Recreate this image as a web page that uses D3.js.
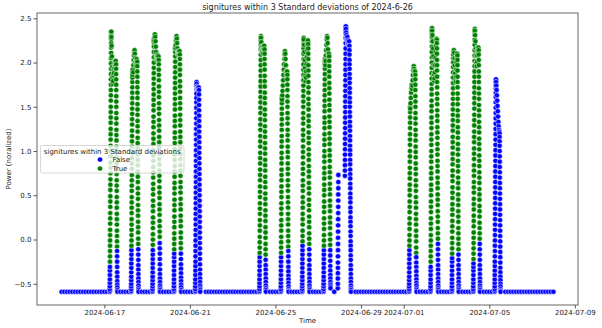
<!DOCTYPE html>
<html>
<head>
<meta charset="utf-8">
<script src="https://cdn.jsdelivr.net/npm/d3@7"></script>
<style>
  body { margin: 0; background: #fff; }
  text { font-family: "DejaVu Sans", sans-serif; }
</style>
</head>
<body>
<svg id="chart" width="602" height="328"></svg>
<script>
// Normalised power readings (hundredths) for each active day.
// Runs in time order: ramp-up outside the 3-sigma band, ramp-up inside it,
// daytime plateau, ramp-down inside the band, ramp-down outside it.
// Ramps are logged every 2 minutes, the plateau every 20 minutes.
const jun17 = [
  [-59,-58,-56,-53,-49,-45,-40,-35,-31],
  [-25,-19,-13,-7,-1,5,11,18,24,30,37,43,49,56,62,68,75,81,87,94,100,106,113,119,125,132,138,144,150,157,163,169,175,181,187,193,199,205,211,217,222,227,231,234,235],
  [229,219,207,195,184,176,179,186,192,188,194,199,197,201,196,202],
  [198,193,187,181,175,169,162,156,150,143,137,131,124,118,112,105,99,93,86,80,74,67,61,55,48,42,36,29,23,17,10,4,-2,-8],
  [-13,-19,-25,-31,-37,-42,-47,-51,-54,-57,-59]
];
const jun18 = [
  [-59,-58,-56,-53,-50,-46,-42,-37,-32,-27,-22,-17,-12],
  [-7,-1,5,11,17,23,30,36,42,48,55,61,67,73,80,86,92,98,105,111,117,123,130,136,142,148,154,160,166,172,178,183,188,191],
  [186,192,189,197,203,208,212,214,210,205,200,196,199,203,204,200],
  [201,196,190,184,178,172,166,160,153,147,141,134,128,122,115,109,103,96,90,84,77,71,65,58,52,46,39,33,27,20,14,8,1,-5],
  [-11,-17,-23,-29,-34,-39,-44,-48,-52,-55,-57,-59]
];
const jun19 = [
  [-59,-58,-56,-53,-50,-46,-42,-37,-32,-27,-22,-17,-12],
  [-6,0,6,13,19,25,32,38,44,51,57,63,70,76,82,89,95,101,108,114,120,127,133,139,146,152,158,164,170,176,182,188,194,200,206,212,218,223,226],
  [225,228,231,232,229,224,218,212,206,203,206,209,204,207,203,207],
  [203,198,192,186,180,173,167,161,154,148,142,135,129,123,116,110,104,97,91,85,78,72,66,59,53,47,40,34,28,21,15,9,3],
  [-4,-10,-16,-22,-28,-34,-39,-44,-48,-52,-55,-57,-59]
];
const jun20 = [
  [-59,-58,-56,-53,-49,-45,-40,-35,-30,-25,-20,-16],
  [-11,-5,1,7,14,20,26,33,39,45,52,58,64,71,77,83,90,96,102,109,115,121,128,134,140,147,153,159,165,171,177,183,189,195,201,207,212,216,218],
  [216,220,225,229,230,227,222,216,210,212,208,213,209,212,213],
  [209,204,198,192,186,179,173,167,160,154,148,141,135,129,122,116,110,103,97,91,84,78,72,65,59,53,46,40,34,27,21,15,8,2,-4,-10],
  [-16,-22,-28,-33,-38,-43,-47,-51,-54,-57,-59]
];
const jun21 = [
  [-59,-58,-56,-53,-49,-45,-40,-35,-30,-25,-19,-13,-7,-1,5,11,17,23,29,35,41,47,53,59,65,71,77,83,89,95,101,107,113,119,125,131,137,143,149,155,160,165,170,174,177,178],
  [],
  [176,173,170,171,172,169,171,172],
  [],
  [169,164,158,152,146,140,134,128,122,116,110,104,98,92,86,80,74,68,62,56,50,44,38,32,26,20,14,8,2,-4,-10,-16,-22,-28,-34,-39,-44,-48,-52,-55,-57,-59]
];
const jun24 = [
  [-59,-58,-56,-53,-49,-45,-40,-35,-30,-25,-20],
  [-15,-9,-3,3,10,16,22,29,35,41,48,54,60,67,73,79,86,92,98,105,111,117,124,130,136,143,149,155,161,167,173,179,185,191,197,203,209,215,220,225,228,230],
  [228,223,217,212,214,218,215,210,216,219,214,219],
  [215,210,204,198,192,185,179,173,166,160,154,147,141,135,128,122,116,109,103,97,90,84,78,71,65,59,52,46,40,33,27,21,14,8,2,-5,-11,-17],
  [-23,-29,-34,-39,-44,-48,-52,-55,-57,-59]
];
const jun25 = [
  [-59,-58,-56,-53,-49,-45,-40,-35,-30,-25,-20],
  [-15,-9,-3,3,10,16,22,29,35,41,48,54,60,67,73,79,86,92,98,105,111,117,124,130,136,142,148,154,159,161],
  [158,163,168,174,180,186,192,198,204,209,213,210,204,197,190,186,189,190],
  [186,181,175,169,162,156,150,143,137,131,124,118,112,105,99,93,86,80,74,67,61,55,48,42,36,29,23,17,10,4,-2,-8],
  [-13,-19,-25,-31,-36,-41,-45,-49,-53,-56,-58,-59]
];
const jun26 = [
  [-59,-58,-56,-53,-50,-46,-42,-37,-32,-27,-22,-17,-12,-7],
  [-2,4,10,17,23,29,36,42,48,55,61,67,74,80,86,93,99,105,112,118,124,131,137,143,150,156,162,168,174,180,186,192,198,204,210,216,221,225,228],
  [226,220,212,203,194,185,179,183,190,198,206,214,220,224,225],
  [221,216,210,204,197,191,185,178,172,166,159,153,147,140,134,128,121,115,109,102,96,90,83,77,71,64,58,52,45,39,33,26,20,14,7,1,-5],
  [-11,-17,-23,-29,-34,-39,-44,-48,-52,-55,-57,-59]
];
const jun27 = [
  [-59,-58,-56,-53,-50,-46,-42,-37,-32,-27,-22,-17,-12],
  [-7,-1,5,12,18,24,31,37,43,50,56,62,69,75,81,88,94,100,107,113,119,126,132,138,145,151,157,163,169,175,181,187,193,198,202,204],
  [200,197,202,208,214,220,226,230,228,222,215,209,206,210],
  [207,202,196,190,184,177,171,165,158,152,146,139,133,127,120,114,108,101,95,89,82,76,70,63,57,51,44,38,32,25,19,13,6,0,-6],
  [-12,-18,-24,-30,-35,-40,-44,-48,-51,-53,-55]
];
const jun28 = [
  [72,78,84,90,96,102,108,114,120,126,132,138,144,150,156,162,168,174,180,186,192,198,204,210,216,222,228,233,237,240,241],
  [],
  [238,234,231,228,226,229,224,221,225,222,219,224],
  [],
  [219,214,209,203,198,193,187,182,177,171,166,160,155,150,144,139,133,128,123,117,112,106,101,96,90,85,79,74,69,63,58,52,47,42,36,31,25,20,15,9,4,-2,-7,-12,-18,-23,-29,-34,-39,-44,-48,-52,-55,-57,-59]
];
const jul01 = [
  [-59,-58,-56,-53,-50,-46,-42,-37,-32,-27,-22,-17,-12],
  [-7,-1,5,12,18,24,31,37,43,50,56,62,69,75,81,88,94,100,107,113,119,126,132,138,144,150],
  [148,154,160,166,171,175,170,174,180,186,191,195,196,193,190,188,190],
  [186,181,175,169,162,156,150,143,137,131,124,118,112,105,99,93,86,80,74,67,61,55,48,42,36,29,23,17,10,4,-2,-9,-15],
  [-20,-26,-31,-36,-41,-45,-49,-52,-55,-57,-59]
];
const jul02 = [
  [-59,-58,-56,-53,-49,-45,-40,-35,-31],
  [-25,-19,-13,-7,-1,5,12,18,24,31,37,43,50,56,62,69,75,81,88,94,100,107,113,119,126,132,138,145,151,157,164,170,176,182,188,194,200,206,212,218,224,229,233,236,238,239],
  [236,231,224,216,207,197,187,179,182,189,197,205,212,219,224,227],
  [226,222,216,210,203,197,191,184,178,172,165,159,153,146,140,134,127,121,115,108,102,96,89,83,77,70,64,58,51,45,39,32,26,20,13,7,1],
  [-5,-11,-17,-23,-29,-34,-39,-44,-48,-52,-55,-57,-59]
];
const jul03 = [
  [-59,-58,-56,-53,-49,-45,-40,-35,-30,-25,-21],
  [-16,-10,-4,2,9,15,21,28,34,40,47,53,59,66,72,78,85,91,97,104,110,116,123,129,135,141,147,153,159,165,171,177,183,189,195,200,205],
  [209,212,214,211,205,197,188,180,178,184,192,200,206,210],
  [208,203,197,191,184,178,172,165,159,153,146,140,134,127,121,115,108,102,96,89,83,77,70,64,58,51,45,39,32,26,20,13,7,1,-5,-11],
  [-17,-23,-29,-34,-39,-44,-48,-52,-55,-57,-59]
];
const jul04 = [
  [-59,-58,-56,-53,-49,-45,-40,-35,-31,-27],
  [-22,-16,-10,-4,2,8,15,21,27,34,40,46,53,59,65,72,78,84,91,97,103,110,116,122,129,135,141,148,154,160,166,172,178,184,190,196,202,208,214,220,226,231,235,238],
  [236,231,224,216,208,200,196,201,208,214,217,212,217],
  [214,209,203,197,190,184,178,171,165,159,152,146,140,133,127,121,114,108,102,95,89,83,76,70,64,57,51,45,38,32,26,19,13,7,1],
  [-5,-11,-17,-23,-29,-34,-39,-44,-48,-52,-55,-57,-59]
];
const jul05 = [
  [-59,-58,-56,-53,-49,-45,-40,-35,-30,-25,-19,-13,-7,-1,5,11,17,23,29,35,41,47,53,59,65,71,77,83,89,95,101,107,113,119,125,131,137,143,149,155,161,166,171,175,178,180,181],
  [],
  [178,174,169,163,157,151,145,139,133,128,124,122],
  [],
  [120,116,111,106,100,94,88,82,76,70,64,58,52,46,40,34,28,22,16,10,4,-2,-8,-14,-20,-26,-32,-37,-42,-46,-50,-53,-56,-58,-59]
];

const activeDates = ["2024-06-17","2024-06-18","2024-06-19","2024-06-20","2024-06-21",
                     "2024-06-24","2024-06-25","2024-06-26","2024-06-27","2024-06-28",
                     "2024-07-01","2024-07-02","2024-07-03","2024-07-04","2024-07-05"];
const activeReadings = [jun17, jun18, jun19, jun20, jun21,
                        jun24, jun25, jun26, jun27, jun28,
                        jul01, jul02, jul03, jul04, jul05];
// whether the day's daytime readings sit inside the band at all
const dayInBand = [true, true, true, true, false,
                   true, true, true, true, false,
                   true, true, true, true, false];
const firstReadingHour = [6, 6, 6, 6, 6,
                          6, 6, 6, 6, 6,
                          6, 6, 6, 6, 6];
const runStepMinutes = [2, 2, 20, 2, 2];

// Late-evening surge on 2024-06-27 (outside the band), 2-minute readings.
const lateSurgeStart = "2024-06-27T22:00";
const lateSurge = [-55,-50,-44,-38,-32,-26,-19,-12,-5,2,9,16,23,30,37,44,51,58,65,73];

// Resting level, logged every 3 hours while idle and overnight.
const restLevel = -0.59;
const idleDates = ["2024-06-15","2024-06-16","2024-06-22","2024-06-23",
                   "2024-06-29","2024-06-30","2024-07-06","2024-07-07"];
const idleHours = [0, 3, 6, 9, 12, 15, 18, 21];
const nightHours = [0, 3, 18, 21];
const missingRest = ["2024-06-27T21:00", "2024-06-28T00:00", "2024-06-28T03:00"];
const lastReading = "2024-07-08T00:00";

const seriesLabels = ["False", "True"];
const seriesColors = ["#0000ff", "#008000"];
const xTickDates = ["2024-06-17","2024-06-21","2024-06-25","2024-06-29","2024-07-01","2024-07-05","2024-07-09"];
const yTicks = [-0.5, 0.0, 0.5, 1.0, 1.5, 2.0, 2.5];

// ---- assemble the readings ----
const parseDay = d3.utcParse("%Y-%m-%d");
const parseStamp = d3.utcParse("%Y-%m-%dT%H:%M");
const fmtStamp = d3.utcFormat("%Y-%m-%dT%H:%M");
const HOUR = 3600e3, MINUTE = 60e3;

const points = [];
activeDates.forEach((d, i) => {
  let t = +parseDay(d) + firstReadingHour[i] * HOUR;
  activeReadings[i].forEach((run, r) => {
    const inside = dayInBand[i] && r >= 1 && r <= 3;
    run.forEach(v => {
      points.push({ t: new Date(t), v: v / 100, ok: inside });
      t += runStepMinutes[r] * MINUTE;
    });
  });
});
{
  let t = +parseStamp(lateSurgeStart);
  lateSurge.forEach(v => { points.push({ t: new Date(t), v: v / 100, ok: false }); t += 2 * MINUTE; });
}
const skip = new Set(missingRest);
function addRest(day, h) {
  const t = new Date(+parseDay(day) + h * HOUR);
  if (!skip.has(fmtStamp(t))) points.push({ t, v: restLevel, ok: false });
}
idleDates.forEach(d => idleHours.forEach(h => addRest(d, h)));
activeDates.forEach(d => nightHours.forEach(h => addRest(d, h)));
points.push({ t: parseStamp(lastReading), v: restLevel, ok: false });
points.sort((a, b) => a.t - b.t);

// ---- layout ----
const svg = d3.select("#chart");
const L = 37, R = 578, T = 13, B = 305;

function padded(ext, f) { const p = (ext[1] - ext[0]) * f; return [ext[0] - p, ext[1] + p]; }
const tExt = d3.extent(points, d => +d.t);
const vExt = d3.extent(points, d => d.v);
const x = d3.scaleUtc().domain(padded(tExt, 0.05).map(v => new Date(v))).range([L, R]);
const y = d3.scaleLinear().domain(padded(vExt, 0.05)).range([B, T]);

// points, drawn in time order
svg.append("g")
  .selectAll("circle")
  .data(points)
  .join("circle")
  .attr("cx", d => x(d.t))
  .attr("cy", d => y(d.v))
  .attr("r", 2.6)
  .attr("fill", d => seriesColors[d.ok ? 1 : 0])
  .attr("stroke", "#fff")
  .attr("stroke-width", 0.5);

// frame
svg.append("rect")
  .attr("x", L).attr("y", T).attr("width", R - L).attr("height", B - T)
  .attr("fill", "none").attr("stroke", "#666").attr("stroke-width", 1);

// axes
const xAxis = svg.append("g")
  .attr("transform", `translate(0,${B})`)
  .call(d3.axisBottom(x)
    .tickValues(xTickDates.map(parseDay))
    .tickFormat(d3.utcFormat("%Y-%m-%d"))
    .tickSize(3.5).tickPadding(2));
const yAxis = svg.append("g")
  .attr("transform", `translate(${L},0)`)
  .call(d3.axisLeft(y)
    .tickValues(yTicks)
    .tickFormat(d3.format(".1f"))
    .tickSize(3.5).tickPadding(2));
[xAxis, yAxis].forEach(g => {
  g.select(".domain").remove();
  g.selectAll(".tick line").attr("stroke", "#555");
  g.selectAll(".tick text").attr("fill", "#222")
    .style("font-family", "DejaVu Sans").style("font-size", "7px");
});

// title and axis labels
svg.append("text")
  .attr("x", (L + R) / 2).attr("y", 10)
  .attr("text-anchor", "middle")
  .style("font-size", "8px").attr("fill", "#222")
  .text("signitures within 3 Standard deviations of 2024-6-26");
svg.append("text")
  .attr("x", (L + R) / 2).attr("y", 323)
  .attr("text-anchor", "middle")
  .style("font-size", "7px").attr("fill", "#222")
  .text("Time");
svg.append("text")
  .attr("transform", `translate(11,${(T + B) / 2}) rotate(-90)`)
  .attr("text-anchor", "middle")
  .style("font-size", "7px").attr("fill", "#222")
  .text("Power (noralized)");

// legend
const lg = svg.append("g").attr("transform", "translate(40.5,145.5)");
lg.append("rect")
  .attr("width", 143.5).attr("height", 27.5).attr("rx", 2)
  .attr("fill", "#fff").attr("fill-opacity", 0.8)
  .attr("stroke", "#ccc").attr("stroke-width", 0.8);
lg.append("text")
  .attr("x", 71.75).attr("y", 8)
  .attr("text-anchor", "middle")
  .style("font-size", "7px").attr("fill", "#222")
  .text("signitures within 3 Standard deviations");
seriesLabels.forEach((s, i) => {
  const row = lg.append("g").attr("transform", `translate(0,${14 + i * 9})`);
  row.append("circle").attr("cx", 59.5).attr("cy", 0).attr("r", 2.6)
    .attr("fill", seriesColors[i]).attr("stroke", "#fff").attr("stroke-width", 0.5);
  row.append("text").attr("x", 72).attr("y", 2.5)
    .style("font-size", "7px").attr("fill", "#222").text(s);
});
</script>
</body>
</html>
